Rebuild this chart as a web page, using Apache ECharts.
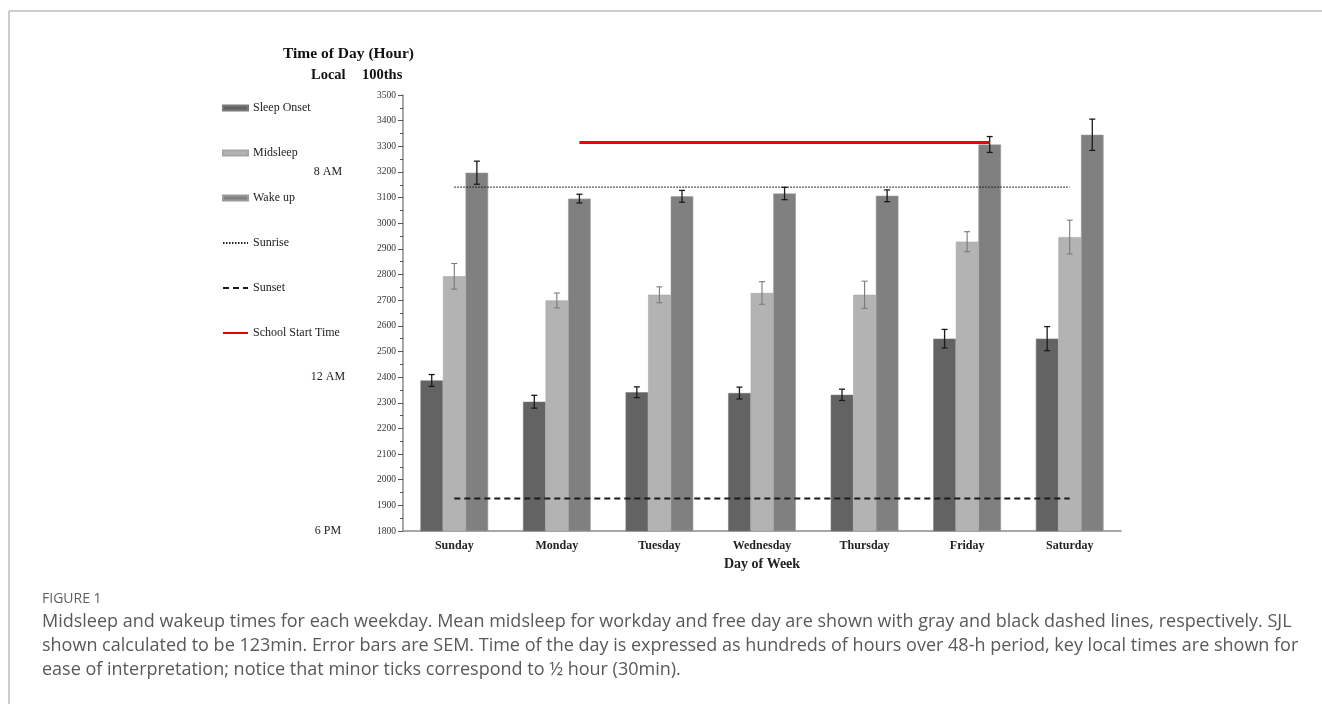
<!DOCTYPE html>
<html>
<head>
<meta charset="utf-8">
<script src="https://cdn.jsdelivr.net/npm/echarts@6/dist/echarts.min.js"></script>
<style>
  html, body { margin: 0; padding: 0; background: #fff; }
  #chart { width: 1322px; height: 704px; }
</style>
</head>
<body>
<div id="chart"></div>
<script>
// Days of the week on the category axis
const days = ['Sunday', 'Monday', 'Tuesday', 'Wednesday', 'Thursday', 'Friday', 'Saturday'];

// Mean times (hundredths of hours over a 48-h period) and their SEM
const sleepOnset    = [2387, 2304, 2341, 2338, 2331, 2550, 2550];
const sleepOnsetSem = [23, 25, 21, 23, 22, 36, 47];
const midsleep      = [2793, 2699, 2721, 2728, 2721, 2928, 2946];
const midsleepSem   = [50, 29, 31, 44, 53, 39, 66];
const wakeUp        = [3197, 3096, 3105, 3116, 3107, 3307, 3345];
const wakeUpSem     = [45, 17, 23, 24, 23, 31, 61];

// Reference times
const sunriseTime = 3141;
const sunsetTime = 1927;
const schoolStartTime = 3315;
const sunriseSpan = ['Sunday', 'Saturday'];
const sunsetSpan = ['Sunday', 'Saturday'];
const schoolSpan = ['Monday', 'Friday'];   // drawn from the wake-up bar of the first day to that of the last

// Value axis range (hundredths) and local-time landmarks
const axisMin = 1800;
const axisMax = 3500;
const axisStep = 100;
const localTickValues = [1800, 2400, 3200];
const localTickLabels = ['6 PM', '12 AM', '8 AM'];

// Caption text
const figureLabel = 'FIGURE 1';
const captionLines = [
  'Midsleep and wakeup times for each weekday. Mean midsleep for workday and free day are shown with gray and black dashed lines, respectively. SJL',
  'shown calculated to be 123min. Error bars are SEM. Time of the day is expressed as hundreds of hours over 48-h period, key local times are shown for',
  'ease of interpretation; notice that minor ticks correspond to \u00bd hour (30min).'
];

// ---- layout helpers ----
const categoryGap = 0.34;                       // fraction of each band left empty
const barFrac = (1 - categoryGap) / 3;          // width of one bar as a fraction of the band
const serif = '"Liberation Serif", "Times New Roman", serif';
const captionFont = '"Open Sans", sans-serif';

function dayPos(day, barSlot) {
  // position on the hidden 0..7 value axis: band centre plus the bar's slot offset
  return days.indexOf(day) + 0.5 + barSlot * barFrac;
}
function spanLine(span, value, barSlot) {
  return [[dayPos(span[0], barSlot), value], [dayPos(span[1], barSlot), value]];
}
function errData(means, sems) {
  return means.map((m, i) => [i, m - sems[i], m + sems[i]]);
}
function errorSeries(name, means, sems, slot, color, width) {
  return {
    type: 'custom',
    name: name,
    xAxisIndex: 0,
    yAxisIndex: 0,
    z: 5,
    silent: true,
    data: errData(means, sems),
    renderItem: function (params, api) {
      const band = api.size([1, 0])[0];
      const lo = api.coord([api.value(0), api.value(1)]);
      const hi = api.coord([api.value(0), api.value(2)]);
      const x = lo[0] + slot * band * barFrac;
      const cap = 3;
      const style = { stroke: color, lineWidth: width };
      return {
        type: 'group',
        children: [
          { type: 'line', shape: { x1: x, y1: lo[1], x2: x, y2: hi[1] }, style: style },
          { type: 'line', shape: { x1: x - cap, y1: lo[1], x2: x + cap, y2: lo[1] }, style: style },
          { type: 'line', shape: { x1: x - cap, y1: hi[1], x2: x + cap, y2: hi[1] }, style: style }
        ]
      };
    }
  };
}

const chart = echarts.init(document.getElementById('chart'), null, { renderer: 'canvas' });

const hiddenSymbol = { opacity: 0 };

const option = {
  animation: false,
  backgroundColor: '#ffffff',
  title: [
    { text: 'Time of Day (Hour)', left: 283, top: 46, padding: 0,
      textStyle: { fontFamily: serif, fontSize: 15.5, fontWeight: 'bold', color: '#111' } },
    { text: 'Local', left: 311, top: 68, padding: 0,
      textStyle: { fontFamily: serif, fontSize: 14.5, fontWeight: 'bold', color: '#111' } },
    { text: '100ths', left: 362, top: 68, padding: 0,
      textStyle: { fontFamily: serif, fontSize: 14.5, fontWeight: 'bold', color: '#111' } }
  ],
  legend: {
    orient: 'vertical',
    left: 222,
    top: 101,
    padding: 0,
    itemWidth: 25,
    itemHeight: 5,
    itemGap: 31,
    textStyle: { fontFamily: serif, fontSize: 12, color: '#222', lineHeight: 14 },
    data: [
      { name: 'Sleep Onset', icon: 'rect' },
      { name: 'Midsleep', icon: 'rect' },
      { name: 'Wake up', icon: 'rect' },
      { name: 'Sunrise', itemStyle: hiddenSymbol },
      { name: 'Sunset', itemStyle: hiddenSymbol },
      { name: 'School Start Time', itemStyle: hiddenSymbol }
    ]
  },
  grid: { left: 403, right: 201, top: 95, bottom: 173 },
  xAxis: [
    {
      type: 'category',
      data: days,
      axisLine: { lineStyle: { color: '#8a8a8a', width: 1.5 } },
      axisTick: { show: false },
      axisLabel: { fontFamily: serif, fontSize: 12, fontWeight: 'bold', color: '#222', margin: 9 },
      name: 'Day of Week',
      nameLocation: 'middle',
      nameGap: 24,
      nameTextStyle: { fontFamily: serif, fontSize: 14, fontWeight: 'bold', color: '#222' }
    },
    { type: 'value', min: 0, max: days.length, show: false }
  ],
  yAxis: [
    {
      type: 'value',
      position: 'left',
      min: axisMin,
      max: axisMax,
      interval: axisStep,
      axisLine: { show: true, lineStyle: { color: '#8a8a8a', width: 1.5 } },
      axisTick: { show: true, length: 5, lineStyle: { color: '#555' } },
      minorTick: { show: true, splitNumber: 2, length: 3, lineStyle: { color: '#555' } },
      splitLine: { show: false },
      axisLabel: { fontFamily: serif, fontSize: 9.5, color: '#333', margin: 7,
        formatter: function (v) { return String(v); } }
    },
    {
      type: 'value',
      position: 'left',
      offset: 75,
      min: axisMin,
      max: axisMax,
      interval: axisStep,
      axisLine: { show: false },
      axisTick: { show: false },
      splitLine: { show: false },
      axisLabel: {
        fontFamily: serif, fontSize: 12, color: '#222', margin: 0, align: 'center',
        formatter: function (v) {
          const i = localTickValues.indexOf(v);
          return i >= 0 ? localTickLabels[i] : '';
        }
      }
    }
  ],
  series: [
    { name: 'Sleep Onset', type: 'bar', data: sleepOnset, barGap: '0%', barCategoryGap: (categoryGap * 100) + '%',
      itemStyle: { color: '#636363', borderColor: '#7a7a7a', borderWidth: 0.6 } },
    { name: 'Midsleep', type: 'bar', data: midsleep, barGap: '0%', barCategoryGap: (categoryGap * 100) + '%',
      itemStyle: { color: '#b3b3b3', borderColor: '#a6a6a6', borderWidth: 0.6 } },
    { name: 'Wake up', type: 'bar', data: wakeUp, barGap: '0%', barCategoryGap: (categoryGap * 100) + '%',
      itemStyle: { color: '#808080', borderColor: '#9a9a9a', borderWidth: 0.6 } },

    errorSeries('Sleep Onset SEM', sleepOnset, sleepOnsetSem, -1, '#1a1a1a', 1.3),
    errorSeries('Midsleep SEM', midsleep, midsleepSem, 0, '#7a7a7a', 1.1),
    errorSeries('Wake up SEM', wakeUp, wakeUpSem, 1, '#1a1a1a', 1.3),

    { name: 'Sunrise', type: 'line', xAxisIndex: 1, yAxisIndex: 0, z: 6, symbol: 'none', silent: true,
      data: spanLine(sunriseSpan, sunriseTime, 0),
      lineStyle: { color: '#222', width: 1.2, type: [1.5, 1.5] }, itemStyle: { color: '#222' } },
    { name: 'Sunset', type: 'line', xAxisIndex: 1, yAxisIndex: 0, z: 6, symbol: 'none', silent: true,
      data: spanLine(sunsetSpan, sunsetTime, 0),
      lineStyle: { color: '#1a1a1a', width: 2, type: [6, 4] }, itemStyle: { color: '#1a1a1a' } },
    { name: 'School Start Time', type: 'line', xAxisIndex: 1, yAxisIndex: 0, z: 6, symbol: 'none', silent: true,
      data: spanLine(schoolSpan, schoolStartTime, 1),
      lineStyle: { color: '#e8000b', width: 3, type: 'solid' }, itemStyle: { color: '#e8000b' } }
  ],
  graphic: [
    // page frame
    { type: 'line', shape: { x1: 9, y1: 11, x2: 1322, y2: 11 }, style: { stroke: '#bdbdbd', lineWidth: 1.5 } },
    { type: 'line', shape: { x1: 9, y1: 11, x2: 9, y2: 704 }, style: { stroke: '#bdbdbd', lineWidth: 1.5 } },
    // caption
    { type: 'text', left: 42, top: 592,
      style: { text: figureLabel, font: '14px ' + captionFont, fill: '#5f5f5f' } },
    { type: 'text', left: 42, top: 613,
      style: { text: captionLines[0], font: '18px ' + captionFont, fill: '#595959' } },
    { type: 'text', left: 42, top: 637,
      style: { text: captionLines[1], font: '18px ' + captionFont, fill: '#595959' } },
    { type: 'text', left: 42, top: 661,
      style: { text: captionLines[2], font: '18px ' + captionFont, fill: '#595959' } }
  ]
};

chart.setOption(option);
</script>
</body>
</html>
